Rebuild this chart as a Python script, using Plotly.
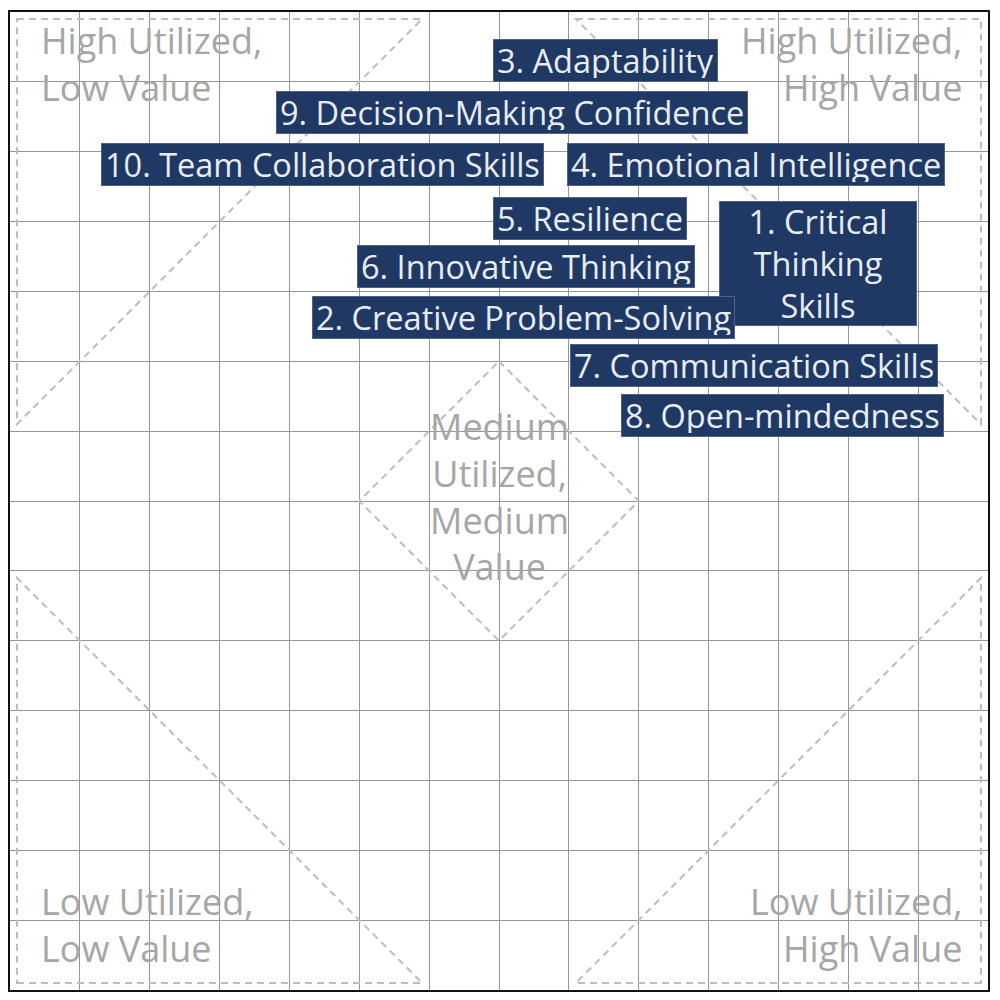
import plotly.graph_objects as go

# skill positions (value on x, utilization on y)
skills = [
    "1. Critical Thinking Skills",
    "2. Creative Problem-Solving",
    "3. Adaptability",
    "4. Emotional Intelligence",
    "5. Resilience",
    "6. Innovative Thinking",
    "7. Communication Skills",
    "8. Open-mindedness",
    "9. Decision-Making Confidence",
    "10. Team Collaboration Skills",
]
value_score = [0.956, 0.535, 0.653, 0.868, 0.630, 0.538, 0.865, 0.906, 0.518, 0.248]
utilization_score = [0.840, 0.763, 1.130, 0.981, 0.905, 0.836, 0.694, 0.623, 1.056, 0.981]

quadrant_names = [
    "High Utilized,<br>Low Value",
    "High Utilized,<br>High Value",
    "Medium<br>Utilized,<br>Medium<br>Value",
    "Low Utilized,<br>Low Value",
    "Low Utilized,<br>High Value",
]
quadrant_x = [-0.158, 1.165, 0.5, -0.158, 1.165]
quadrant_y = [1.125, 1.125, 0.507, -0.107, -0.107]

NAVY = "#1f3864"
FONT = "Open Sans"

fig = go.Figure()
fig.add_trace(go.Scatter(
    x=value_score, y=utilization_score, mode="markers",
    marker=dict(size=1, opacity=0), text=skills, hoverinfo="text",
    showlegend=False,
))

# dashed quadrant zones
zones = [
    "M -0.19 1.19 L 0.39 1.19 L -0.19 0.61 Z",
    "M 0.61 1.19 L 1.19 1.19 L 1.19 0.61 Z",
    "M -0.19 -0.19 L 0.39 -0.19 L -0.19 0.39 Z",
    "M 1.19 -0.19 L 0.61 -0.19 L 1.19 0.39 Z",
    "M 0.5 0.7 L 0.7 0.5 L 0.5 0.3 L 0.3 0.5 Z",
]
for p in zones:
    fig.add_shape(type="path", path=p, xref="x", yref="y",
                  line=dict(color="#bdbdbd", width=2, dash="7px,5px"))

for i, q in enumerate(quadrant_names):
    anchor = "center"
    if quadrant_x[i] < 0:
        anchor = "left"
    elif quadrant_x[i] > 1:
        anchor = "right"
    fig.add_annotation(x=quadrant_x[i], y=quadrant_y[i], text=q, showarrow=False,
                       xanchor=anchor, yanchor="middle", align=anchor,
                       font=dict(family=FONT, size=36, color="#a6a6a6"))

for i, s in enumerate(skills):
    txt = s
    w, h = None, 35
    if i == 0:
        txt = "1. Critical<br>Thinking<br>Skills"
        w, h = 190, 117
    fig.add_annotation(x=value_score[i], y=utilization_score[i], text=txt,
                       showarrow=False, xanchor="center", yanchor="middle",
                       width=w, height=h, bgcolor=NAVY, bordercolor="#4d6189",
                       borderwidth=1, borderpad=3,
                       font=dict(family=FONT, size=32.5, color="#e8edf5"))

axis = dict(range=[-0.2, 1.2], dtick=0.1, tick0=0, showticklabels=False,
            showgrid=True, gridcolor="#969696", gridwidth=1, zeroline=False,
            showline=True, mirror=True, linecolor="#111111", linewidth=2,
            ticks="", fixedrange=True)
fig.update_xaxes(**axis)
fig.update_yaxes(**axis)
fig.update_layout(
    width=984, height=984,
    margin=dict(l=2, r=2, t=2, b=2),
    plot_bgcolor="white", paper_bgcolor="white",
    font=dict(family=FONT),
)
fig.write_html("out.html")
